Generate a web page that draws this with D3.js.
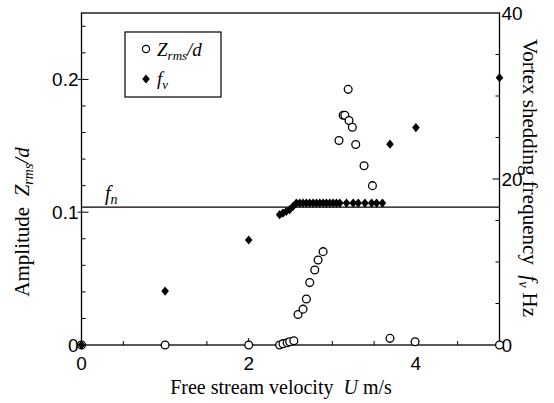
<!DOCTYPE html>
<html><head><meta charset="utf-8">
<script src="https://cdn.jsdelivr.net/npm/d3@7"></script>
<style>body{margin:0;background:#fff}svg{display:block}</style>
</head><body><svg id="c" width="554" height="403"></svg>
<script>
// velocity (m/s) and amplitude Zrms/d
const ampU = [0, 1.0, 2.0, 2.37, 2.41, 2.46, 2.49, 2.54, 2.59, 2.65, 2.69, 2.73, 2.79, 2.83, 2.89, 3.08, 3.13, 3.15, 3.19, 3.20, 3.24, 3.28, 3.38, 3.48, 3.69, 3.99, 5.0];
const ampZ = [0, 0, 0, 0, 0.001, 0.0017, 0.0025, 0.0032, 0.023, 0.027, 0.0346, 0.047, 0.0565, 0.064, 0.0703, 0.154, 0.173, 0.173, 0.1925, 0.169, 0.164, 0.151, 0.135, 0.120, 0.005, 0.0025, 0];
// velocity (m/s) and vortex shedding frequency fv (Hz)
const frqU = [0, 1.0, 2.0, 2.37, 2.41, 2.45, 2.49, 2.53, 2.57, 2.61, 2.65, 2.69, 2.73, 2.77, 2.81, 2.85, 2.89, 2.93, 2.97, 3.01, 3.05, 3.09, 3.17, 3.25, 3.31, 3.39, 3.47, 3.53, 3.60, 3.69, 4.0, 5.0];
const frqF = [0, 6.5, 12.65, 15.7, 15.9, 16.1, 16.3, 16.7, 17.1, 17.1, 17.1, 17.1, 17.1, 17.1, 17.1, 17.1, 17.1, 17.1, 17.1, 17.1, 17.1, 17.1, 17.1, 17.1, 17.1, 17.1, 17.1, 17.1, 17.1, 24.2, 26.2, 32.2];
const fn = 16.6;
const xTicks = [0, 2, 4];
const yLeftTicks = [0, 0.1, 0.2];
const yRightTicks = [0, 20, 40];

const svg = d3.select("#c");
const L = 81.5, R = 499.5, T = 13, B = 345;
const x = d3.scaleLinear().domain([0, 5]).range([L, R]);
const yA = d3.scaleLinear().domain([0, 0.25]).range([B, T]);
const yF = d3.scaleLinear().domain([0, 40]).range([B, T]);

const serif = "'Liberation Serif','Times New Roman',serif";
const sans = "'Liberation Sans',Arial,sans-serif";

// frame
svg.append("rect").attr("x", L).attr("y", T).attr("width", R - L).attr("height", B - T)
  .attr("fill", "none").attr("stroke", "#000").attr("stroke-width", 1.3);

// ticks
const g = svg.append("g").attr("stroke", "#000").attr("stroke-width", 1);
d3.range(0.5, 5, 0.5).forEach(v => {
  const major = xTicks.includes(v);
  g.append("line").attr("x1", x(v)).attr("x2", x(v)).attr("y1", B).attr("y2", B - (major ? 7 : 4));
});
d3.range(0.02, 0.25, 0.02).forEach(v => {
  const major = Math.abs(v - 0.1) < 1e-6 || Math.abs(v - 0.2) < 1e-6;
  g.append("line").attr("x1", major ? L - 4 : L).attr("x2", L + (major ? 7 : 4)).attr("y1", yA(v)).attr("y2", yA(v));
});
d3.range(5, 40, 5).forEach(v => {
  const major = v === 20;
  g.append("line").attr("x1", R - (major ? 7 : 4)).attr("x2", R).attr("y1", yF(v)).attr("y2", yF(v));
});

// tick labels
const tl = svg.append("g").attr("font-family", sans).attr("font-size", 19).attr("fill", "#000");
xTicks.forEach(v => tl.append("text").attr("x", x(v)).attr("y", B + 25).attr("text-anchor", "middle").text(v));
yLeftTicks.forEach(v => tl.append("text").attr("x", L - 3).attr("y", yA(v) + 7).attr("text-anchor", "end").text(v));
yRightTicks.forEach(v => tl.append("text").attr("x", R + 2).attr("y", yF(v) + 7).attr("text-anchor", "start").text(v));

// fn line
svg.append("line").attr("x1", L).attr("x2", R).attr("y1", yF(fn)).attr("y2", yF(fn))
  .attr("stroke", "#000").attr("stroke-width", 1.2);
const fnT = svg.append("text").attr("x", 105).attr("y", yF(fn) - 7).attr("font-family", serif)
  .attr("font-size", 20).attr("font-style", "italic");
fnT.append("tspan").text("f");
fnT.append("tspan").attr("font-size", 14).attr("dy", 4).text("n");

// diamond symbol
const diamond = { draw(ctx, size) { const w = 3.8, h = 4.6; ctx.moveTo(0, -h); ctx.lineTo(w, 0); ctx.lineTo(0, h); ctx.lineTo(-w, 0); ctx.closePath(); } };
const dsym = d3.symbol().type(diamond);

// amplitude circles
svg.append("g").selectAll("circle").data(ampU).join("circle")
  .attr("cx", (d, i) => x(d)).attr("cy", (d, i) => yA(ampZ[i])).attr("r", 3.9)
  .attr("fill", "#fff").attr("stroke", "#000").attr("stroke-width", 1.3);

// frequency diamonds
svg.append("g").selectAll("path").data(frqU).join("path")
  .attr("d", dsym).attr("transform", (d, i) => `translate(${x(d)},${yF(frqF[i])})`).attr("fill", "#000");

// legend
svg.append("rect").attr("x", 125).attr("y", 32).attr("width", 96).attr("height", 65)
  .attr("fill", "#fff").attr("stroke", "#000").attr("stroke-width", 1.2);
svg.append("circle").attr("cx", 146).attr("cy", 49).attr("r", 3.6).attr("fill", "#fff").attr("stroke", "#000").attr("stroke-width", 1.2);
svg.append("path").attr("d", dsym).attr("transform", "translate(146,79)").attr("fill", "#000");
const lt1 = svg.append("text").attr("x", 157).attr("y", 56).attr("font-family", serif).attr("font-size", 19).attr("font-style", "italic");
lt1.append("tspan").text("Z");
lt1.append("tspan").attr("font-size", 13).attr("dy", 4).text("rms");
lt1.append("tspan").attr("dy", -4).text("/d");
const lt2 = svg.append("text").attr("x", 157).attr("y", 85).attr("font-family", serif).attr("font-size", 19).attr("font-style", "italic");
lt2.append("tspan").text("f");
lt2.append("tspan").attr("font-size", 13).attr("dy", 4).text("v");

// axis titles
const xt = svg.append("text").attr("x", 281).attr("y", 394).attr("text-anchor", "middle").attr("font-family", serif).attr("font-size", 20);
xt.append("tspan").text("Free stream velocity\u2002");
xt.append("tspan").attr("font-style", "italic").text("U");
xt.append("tspan").text(" m/s");

const yt = svg.append("text").attr("transform", "translate(29,222) rotate(-90)").attr("text-anchor", "middle").attr("font-family", serif).attr("font-size", 21);
yt.append("tspan").text("Amplitude\u2002");
yt.append("tspan").attr("font-style", "italic").text("Z");
yt.append("tspan").attr("font-style", "italic").attr("font-size", 14).attr("dy", 4).text("rms");
yt.append("tspan").attr("font-style", "italic").attr("dy", -4).text("/d");

const rt = svg.append("text").attr("transform", "translate(523,178) rotate(90)").attr("text-anchor", "middle").attr("font-family", serif).attr("font-size", 21);
rt.append("tspan").text("Vortex shedding frequency\u2002");
rt.append("tspan").attr("font-style", "italic").text("f");
rt.append("tspan").attr("font-style", "italic").attr("font-size", 14).attr("dy", 4).text("v");
rt.append("tspan").attr("dy", -4).text(" Hz");
</script></body></html>
